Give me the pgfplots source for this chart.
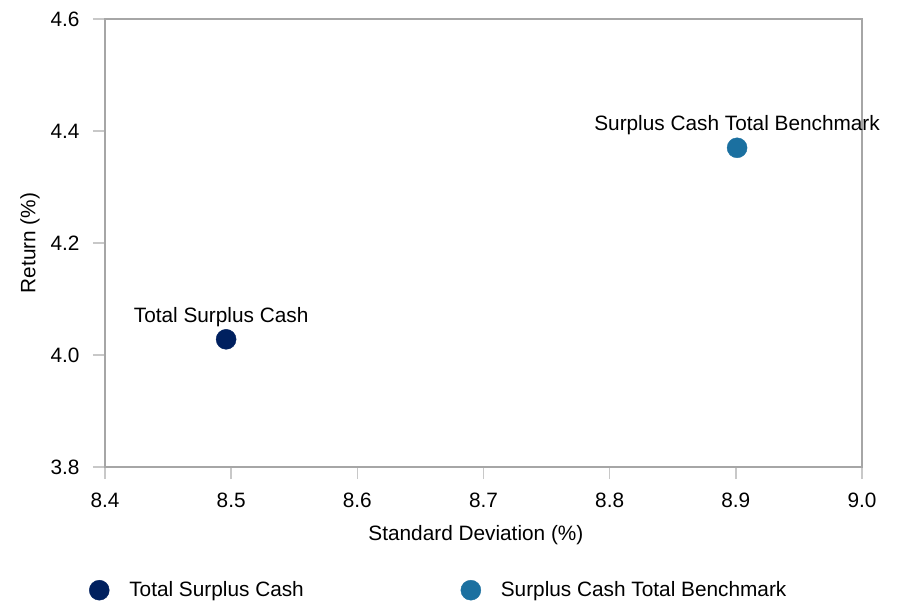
\documentclass[border=0pt]{standalone}
\usepackage{pgfplots}
\pgfplotsset{compat=1.18}
\usepackage{fontspec}
\setmainfont{Liberation Sans}
\definecolor{navy}{HTML}{00205F}
\definecolor{teal}{HTML}{1B70A0}
\definecolor{axgrey}{HTML}{A6A6A6}
\definecolor{tickgrey}{HTML}{C8C8C8}
\begin{document}
\begin{tikzpicture}[font=\fontsize{20.8}{24}\selectfont]
\useasboundingbox (-105pt,-138pt) rectangle (800pt,467pt);
\begin{axis}[
  width=757pt, height=448pt, scale only axis, clip=false,
  xmin=8.4, xmax=9.0, ymin=3.8, ymax=4.6,
  xtick={8.4,8.5,8.6,8.7,8.8,8.9,9.0},
  ytick={3.8,4.0,4.2,4.4,4.6},
  /pgf/number format/assume math mode=true,
  xticklabel style={/pgf/number format/fixed, /pgf/number format/fixed zerofill, /pgf/number format/precision=1, yshift=-10pt},
  yticklabel style={/pgf/number format/fixed, /pgf/number format/fixed zerofill, /pgf/number format/precision=1, xshift=-10pt},
  axis line style={axgrey, line width=1.2pt},
  tick pos=left,
  tick align=outside, major tick length=12pt,
  xtick style={draw=tickgrey, line width=1.5pt},
  ytick style={draw=tickgrey, line width=1.5pt},
  xlabel={Standard Deviation (\%)},
  ylabel={Return (\%)},
  xlabel style={at={(axis description cs:0.49,-0.152)}, anchor=center},
  ylabel style={at={(axis description cs:-0.099,0.5)}, anchor=center},
  legend columns=2,
  legend style={draw=none, at={(-0.025,-0.275)}, anchor=west,
    /tikz/every even column/.append style={column sep=14pt},
    /tikz/every odd column/.append style={column sep=18pt}},
  legend cell align=left,
]
\addplot[only marks, mark=*, mark size=10pt, draw=navy, fill=navy, color=navy]
  coordinates {(8.496,4.028)} node[above=9pt, pos=0, xshift=-5pt, black] {Total Surplus Cash};
\addlegendentry{Total Surplus Cash\rule{141pt}{0pt}}
\addplot[only marks, mark=*, mark size=10pt, draw=teal, fill=teal, color=teal]
  coordinates {(8.901,4.370)} node[above=9pt, pos=0, black] {Surplus Cash Total Benchmark};
\addlegendentry{Surplus Cash Total Benchmark}
\end{axis}
\end{tikzpicture}
\end{document}
